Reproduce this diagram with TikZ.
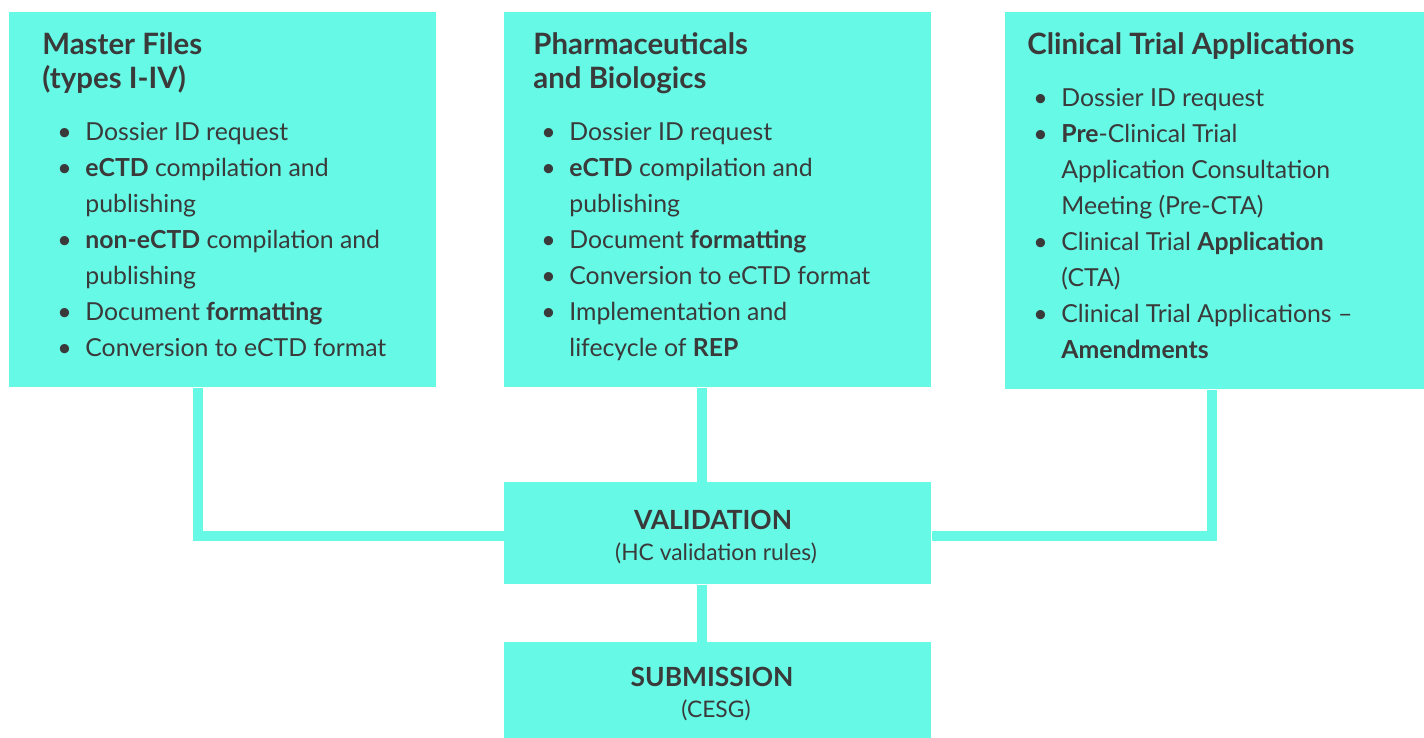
\documentclass[tikz,border=0pt]{standalone}
\usepackage{fontspec}
\setmainfont{Lato}
\usetikzlibrary{calc}
\definecolor{aqua}{HTML}{66F9E6}
\definecolor{ink}{HTML}{3A3A3A}
\newcommand{\bl}{\makebox[14pt][l]{\textbullet}}
\newcommand{\cn}{\hspace*{14pt}}
\tikzset{
  box/.style={fill=aqua, draw=none, anchor=north west, minimum width=213.5pt, inner sep=0pt},
  link/.style={draw=aqua, line width=5pt},
  head/.style={anchor=base west, inner sep=0pt, align=left, text=ink, font=\fontsize{14.7}{17}\selectfont\bfseries},
  items/.style={anchor=base west, inner sep=0pt, align=left, text=ink, font=\fontsize{12.4}{18}\selectfont},
  big/.style={anchor=base, inner sep=0pt, text=ink, font=\fontsize{13.2}{15}\selectfont\bfseries},
  small/.style={anchor=base, inner sep=0pt, text=ink, font=\fontsize{11.4}{14}\selectfont},
}
\begin{document}
\begin{tikzpicture}[x=0.5pt,y=-0.5pt]
\useasboundingbox (0,0) rectangle (1424,738);
% boxes
\node[box, minimum height=187.5pt] (mf) at (9,12) {};
\node[box, minimum height=187.5pt] (pb) at (504,12) {};
\node[box, minimum width=209.5pt, minimum height=188.5pt] (cta) at (1005,12) {};
\node[box, minimum height=51pt] (val) at (504,482) {};
\node[box, minimum height=48pt] (sub) at (504,642) {};
% connectors
\draw[link] ($(mf.south)+(-24.5,0)$) |- ($(val.west)+(0,2.5)$);
\draw[link] ($(cta.south)+(-3,0)$) |- ($(val.east)+(0,2.5)$);
\draw[link] ($(pb.south)+(-15.5,0)$) -- ($(val.north)+(-15.5,0)$);
\draw[link] ($(val.south)+(-15.5,0)$) -- ($(sub.north)+(-15.5,0)$);
% master files
\node[head] (mf-t) at (42,89) {Master Files\\(types I-IV)};
\node[items] (mf-l) at (57,356) {\bl Dossier ID request\\
  \bl\textbf{eCTD} compilation and\\ \cn publishing\\
  \bl\textbf{non-eCTD} compilation and\\ \cn publishing\\
  \bl Document \textbf{formatting}\\
  \bl Conversion to eCTD format};
% pharmaceuticals
\node[head] (pb-t) at (533,89) {Pharmaceuticals\\and Biologics};
\node[items] (pb-l) at (541,356) {\bl Dossier ID request\\
  \bl\textbf{eCTD} compilation and\\ \cn publishing\\
  \bl Document \textbf{formatting}\\
  \bl Conversion to eCTD format\\
  \bl Implementation and\\ \cn lifecycle of \textbf{REP}};
% clinical trials
\node[head] (cta-t) at (1027,55) {Clinical Trial Applications};
\node[items] (cta-l) at (1033,358) {\bl Dossier ID request\\
  \bl\textbf{Pre}-Clinical Trial\\ \cn Application Consultation\\ \cn Meeting (Pre-CTA)\\
  \bl Clinical Trial \textbf{Application}\\ \cn (CTA)\\
  \bl Clinical Trial Applications --\\ \cn\textbf{Amendments}};
% validation / submission
\node[big] (val-t) at (713,529) {VALIDATION};
\node[small] (val-s) at (716,560) {(HC validation rules)};
\node[big] (sub-t) at (712,686) {SUBMISSION};
\node[small] (sub-s) at (716,717) {(CESG)};
\end{tikzpicture}
\end{document}
